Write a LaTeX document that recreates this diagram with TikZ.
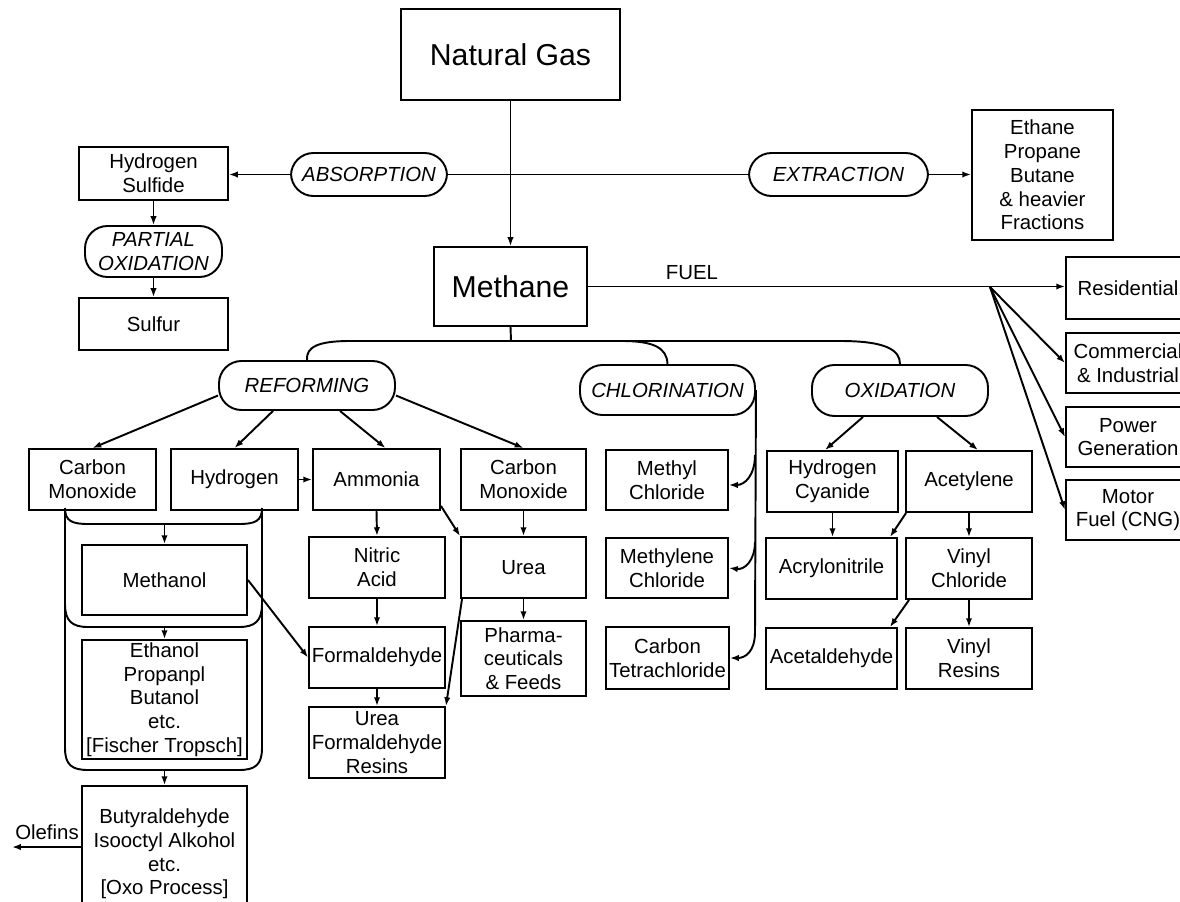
\documentclass[tikz,border=0pt]{standalone}
\usepackage{fontspec}
\setmainfont{Liberation Sans}
\usetikzlibrary{arrows.meta}
\newcommand\fs{\fontsize{11.6}{13.5}\selectfont}
\newcommand\fsbig{\fontsize{17.2}{20}\selectfont}
\tikzset{
  box/.style={draw, line width=1.1pt, inner sep=0pt, align=center, font=\fs},
  proc/.style={draw, line width=1.1pt, inner sep=0pt, align=center, rounded corners=0.45cm, font=\fs\itshape},
  arr/.style={-{Latex[length=5pt,width=3.6pt]}, line width=1.1pt},
  ln/.style={line width=1.1pt},
  lbl/.style={font=\fs, inner sep=0pt}
}
% name, x1, y1, x2, y2, text
\newcommand\boxat[6]{\node[box, minimum width={(#4-#2)*0.02cm}, minimum height={(#5-#3)*0.02cm}] (#1) at ({(#2+#4)/2},{(#3+#5)/2}) {#6};}
\newcommand\procat[6]{\node[proc, minimum width={(#4-#2)*0.02cm}, minimum height={(#5-#3)*0.02cm}] (#1) at ({(#2+#4)/2},{(#3+#5)/2}) {#6};}
\begin{document}
\begin{tikzpicture}[x=0.02cm,y=-0.02cm]
\useasboundingbox (0,0) rectangle (1180,902);
\clip (0,0) rectangle (1180,902);
% top
\boxat{ng}{401}{9}{620}{100}{\fsbig Natural Gas}
\boxat{hs}{79}{147}{228}{200}{Hydrogen\\Sulfide}
\procat{abs}{291}{153}{447}{196}{ABSORPTION}
\procat{ext}{749}{153}{928}{196}{EXTRACTION}
\boxat{eth}{972}{110}{1113}{240}{Ethane\\Propane\\Butane\\\& heavier\\Fractions}
\procat{po}{85}{226}{222}{277}{PARTIAL\\OXIDATION}
\boxat{sul}{79}{298}{228}{350}{Sulfur}
\boxat{meth}{434}{247}{587}{326}{\fsbig Methane}
% fuel
\boxat{res}{1066}{257}{1190}{319}{Residential}
\boxat{com}{1066}{333}{1190}{393}{Commercial\\\& Industrial}
\boxat{pow}{1066}{407}{1190}{467}{Power\\Generation}
\boxat{mot}{1066}{480}{1190}{540}{Motor\\Fuel (CNG)}
\node[lbl] (fuel) at (692,273) {FUEL};
% processes
\procat{ref}{219}{361}{395}{410}{REFORMING}
\procat{chl}{580}{365}{755}{415}{CHLORINATION}
\procat{oxi}{812}{365}{988}{416}{OXIDATION}
% row 1
\boxat{co1}{29}{449}{156}{510}{Carbon\\Monoxide}
\boxat{h2}{171}{449}{298}{510}{Hydrogen}
\boxat{nh3}{313}{449}{440}{510}{Ammonia}
\boxat{co2}{461}{449}{586}{510}{Carbon\\Monoxide}
\boxat{mecl}{606}{450}{728}{510}{Methyl\\Chloride}
\boxat{hcn}{767}{451}{898}{512}{Hydrogen\\Cyanide}
\boxat{acet}{906}{451}{1032}{512}{Acetylene}
% row 2
\boxat{meoh}{82}{545}{247}{615}{Methanol}
\boxat{nitric}{309}{537}{445}{598}{Nitric\\Acid}
\boxat{urea}{461}{537}{586}{598}{Urea}
\boxat{mecl2}{606}{538}{728}{598}{Methylene\\Chloride}
\boxat{acn}{766}{538}{897}{599}{Acrylonitrile}
\boxat{vcl}{906}{538}{1032}{599}{Vinyl\\Chloride}
% row 3
\boxat{etoh}{82}{640}{247}{759}{Ethanol\\Propanpl\\Butanol\\etc.\\{[Fischer Tropsch]}}
\boxat{form}{309}{627}{445}{688}{Formaldehyde}
\boxat{pharma}{461}{621}{586}{696}{Pharma-\\ceuticals\\\& Feeds}
\boxat{ccl4}{606}{627}{729}{689}{Carbon\\Tetrachloride}
\boxat{acal}{766}{628}{897}{689}{Acetaldehyde}
\boxat{vres}{906}{628}{1032}{689}{Vinyl\\Resins}
% row 4
\boxat{ufr}{309}{707}{445}{778}{Urea\\Formaldehyde\\Resins}
\boxat{oxo}{82}{786}{247}{922}{Butyraldehyde\\Isooctyl Alkohol\\etc.\\{[Oxo Process]}}
\node[lbl] (olf) at (47,832) {Olefins};
\coordinate (olfend) at (12,847);

% connectors top
\draw[arr] (ng.south) -- (meth.north);
\draw[arr] (abs.west) -- (abs.west -| hs.east);
\draw[ln] (abs.east) -- (abs.east -| ext.west);
\draw[arr] (ext.east) -- (ext.east -| eth.west);
\draw[arr] (hs.south) -- (po.north);
\draw[arr] (po.south) -- (sul.north);
% fuel
\coordinate (fan) at (990,287);
\draw[arr] (meth.east) -- (meth.east -| res.west);
\draw[arr] (fan) -- (com.west);
\draw[arr] (fan) -- (pow.west);
\draw[arr] (fan) -- (mot.west);
% bracket from methane
\coordinate (brk) at (511,341);
\draw[ln] (meth.south) -- (brk);
\draw[ln] (ref.north) .. controls (306,347) and (318,341) .. (350,341) -- (840,341) .. controls (886,341) and (900,350) .. (oxi.north);
\draw[ln] (622,341) .. controls (654,341) and (667,348) .. (chl.north);
% reforming
\draw[arr] ([shift={(0,10)}]ref.west) -- (co1.north);
\draw[arr] ([shift={(-34,0)}]ref.south) -- (h2.north);
\draw[arr] ([shift={(33,0)}]ref.south) -- ([shift={(9,0)}]nh3.north);
\draw[arr] ([shift={(0,10)}]ref.east) -- (co2.north);
\draw[arr] (h2.east) -- (nh3.west);
\draw[arr] (nh3.south) -- (nitric.north);
\draw[arr] ([shift={(0,-5)}]nh3.south east) -- (urea.north west);
\draw[arr] (co2.south) -- (urea.north);
\draw[arr] (urea.south) -- (pharma.north);
\draw[arr] (nitric.south) -- (form.north);
\draw[arr] (form.south) -- (ufr.north);
\draw[arr] ([shift={(2,0)}]urea.south west) -- (ufr.north east);
\draw[arr] (meoh.east) -- (form.west);
% cylinder
\draw[ln] (65,508) -- (65,748) .. controls (65,765) and (72,770) .. (88,770) -- (239,770) .. controls (255,770) and (262,765) .. (262,748) -- (262,508);
\draw[ln] (65,508) .. controls (65,521) and (72,524) .. (88,524) -- (239,524) .. controls (255,524) and (262,521) .. (262,508);
\draw[ln] (65,604) .. controls (65,621) and (72,627) .. (88,627) -- (239,627) .. controls (255,627) and (262,621) .. (262,604);
\coordinate (b1) at (164.5,524);
\coordinate (b2) at (164.5,627);
\coordinate (b3) at (164.5,770);
\draw[arr] (b1) -- (meoh.north);
\draw[arr] (b2) -- (etoh.north);
\draw[arr] (b3) -- (oxo.north);
\draw[arr] (oxo.west |- olfend) -- (olfend);
% chlorination
\coordinate (cl1) at (755,455);
\coordinate (cl2) at (755,542);
\draw[arr] (chl.east) -- (755,632) .. controls (755,652) and (745,658) .. (ccl4.east);
\draw[arr] (cl1) .. controls (755,475) and (745,485) .. ([shift={(0,5)}]mecl.east);
\draw[arr] (cl2) .. controls (755,560) and (745,570) .. (mecl2.east);
% oxidation
\draw[arr] ([shift={(-37,0)}]oxi.south) -- ([shift={(-7.5,0)}]hcn.north);
\draw[arr] ([shift={(37,0)}]oxi.south) -- ([shift={(9,0)}]acet.north);
\draw[arr] (hcn.south) -- (hcn.south |- acn.north);
\draw[arr] ([shift={(1,0)}]acet.south west) -- ([shift={(-8,0)}]acn.north east);
\draw[arr] (acet.south) -- (vcl.north);
\draw[arr] ([shift={(4,0)}]vcl.south west) -- ([shift={(-8,0)}]acal.north east);
\draw[arr] (vcl.south) -- (vres.north);
\end{tikzpicture}
\end{document}
